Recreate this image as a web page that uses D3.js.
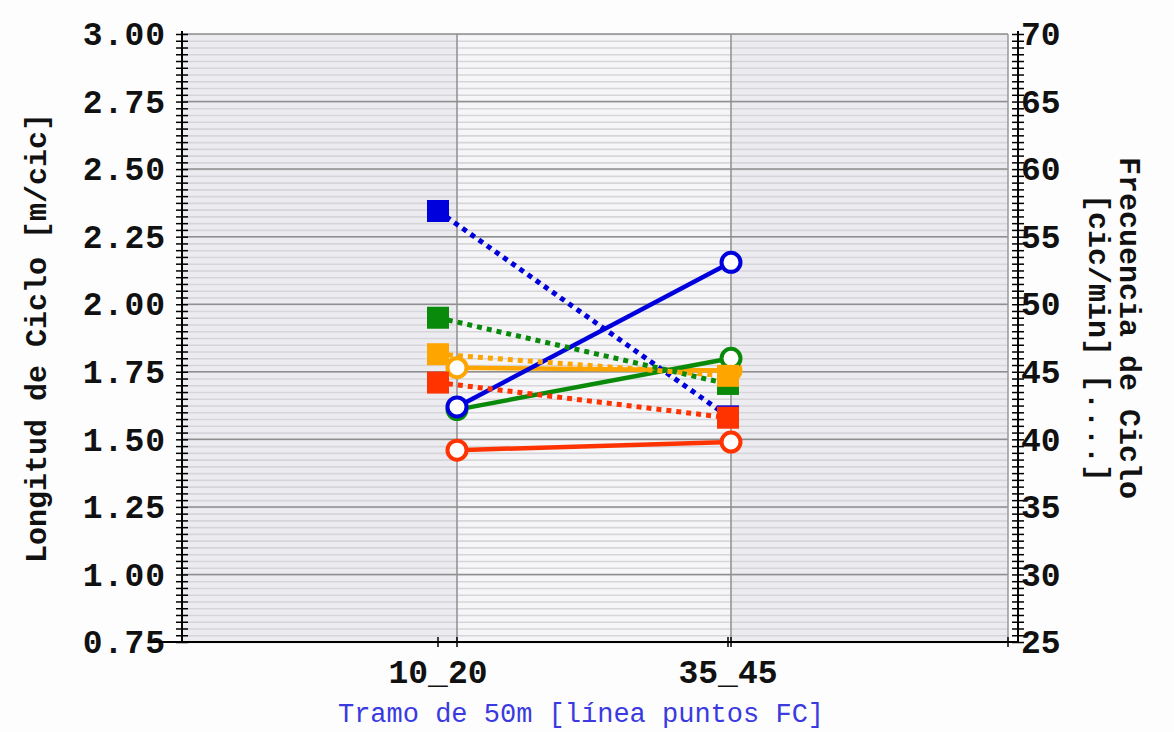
<!DOCTYPE html>
<html><head><meta charset="utf-8">
<script src="https://cdn.jsdelivr.net/npm/d3@7"></script>
<style>
html,body{margin:0;padding:0;background:#fdfdfd;}
svg{display:block;}
text{font-family:"Liberation Mono","DejaVu Sans Mono",monospace;}
</style></head>
<body>
<script>
// ---- data ----
const categories = ["10_20", "35_45"];
const seriesColors = ["#0000dd", "#0a8a0a", "#ffa500", "#ff3300"];
// Longitud de Ciclo [m/cic] (solid lines, circles, left axis)
const lcBlue   = [1.62, 2.155];
const lcGreen  = [1.61, 1.80];
const lcOrange = [1.765, 1.755];
const lcRed    = [1.46, 1.49];
// Frecuencia de Ciclo [cic/min] (dotted lines, squares, right axis)
const fcBlue   = [56.9, 41.7];
const fcGreen  = [49.0, 44.1];
const fcOrange = [46.3, 44.7];
const fcRed    = [44.2, 41.6];
const leftTicks  = [0.75, 1.00, 1.25, 1.50, 1.75, 2.00, 2.25, 2.50, 2.75, 3.00];
const rightTicks = [25, 30, 35, 40, 45, 50, 55, 60, 65, 70];

const lcSeries = [lcBlue, lcGreen, lcOrange, lcRed];
const fcSeries = [fcBlue, fcGreen, fcOrange, fcRed];

// ---- layout ----
const W = 1174, H = 732;
const plotL = 183, plotR = 1008, plotT = 34, plotB = 642;
const leftAxisX = 182, rightAxisX = 1018;

const svg = d3.select("body").append("svg").attr("width", W).attr("height", H);

const yL = d3.scaleLinear().domain([0.75, 3]).range([plotB, plotT]);
const yR = d3.scaleLinear().domain([25, 70]).range([plotB, plotT]);
const xC = d3.scalePoint().domain(categories).range([457, 731]);   // circles
const xS = d3.scalePoint().domain(categories).range([438, 728]);   // squares & labels

// background bands
svg.append("rect").attr("x", plotL).attr("y", plotT).attr("width", plotR - plotL).attr("height", plotB - plotT).attr("fill", "#ebebf0");
svg.append("rect").attr("x", xC(categories[0])).attr("y", plotT).attr("width", xC(categories[1]) - xC(categories[0])).attr("height", plotB - plotT).attr("fill", "#f6f6f8");

// minor stripes
const minor = d3.range(0, 91).map(i => 0.75 + i * 0.025);
svg.append("g").selectAll("line").data(minor).join("line")
  .attr("x1", plotL).attr("x2", plotR)
  .attr("y1", d => yL(d) + 0.5).attr("y2", d => yL(d) + 0.5)
  .attr("stroke", "#d6d6da").attr("stroke-width", 1.6);

// major grid
svg.append("g").selectAll("line").data(leftTicks).join("line")
  .attr("x1", plotL).attr("x2", plotR)
  .attr("y1", d => yL(d)).attr("y2", d => yL(d))
  .attr("stroke", "#8f8f8f").attr("stroke-width", 1.5);
svg.append("g").selectAll("line").data(categories).join("line")
  .attr("x1", d => xC(d)).attr("x2", d => xC(d))
  .attr("y1", plotT).attr("y2", plotB)
  .attr("stroke", "#8f8f8f").attr("stroke-width", 1.5);
// right border
svg.append("line").attr("x1", plotR).attr("x2", plotR).attr("y1", plotT).attr("y2", plotB)
  .attr("stroke", "#999").attr("stroke-width", 1.5);

// ---- axes ----
const tickLen = 6;
function crossTicks(g) {
  g.select(".domain").remove();
  g.selectAll(".tick line").attr("x1", -tickLen).attr("x2", tickLen).attr("stroke", "#000").attr("stroke-width", 1.5);
  g.selectAll(".tick text").remove();
}
const leftMinor = d3.range(0, 91).map(i => 0.75 + i * 0.025);
svg.append("g").attr("transform", `translate(${leftAxisX},0)`)
  .call(d3.axisLeft(yL).tickValues(leftMinor).tickSize(tickLen)).call(crossTicks);
svg.append("line").attr("x1", leftAxisX).attr("x2", leftAxisX).attr("y1", plotT - 3).attr("y2", plotB)
  .attr("stroke", "#000").attr("stroke-width", 2);

const rightMinor = d3.range(0, 91).map(i => 25 + i * 0.5);
svg.append("g").attr("transform", `translate(${rightAxisX},0)`)
  .call(d3.axisRight(yR).tickValues(rightMinor).tickSize(tickLen)).call(crossTicks);
svg.append("line").attr("x1", rightAxisX).attr("x2", rightAxisX).attr("y1", plotT - 3).attr("y2", plotB)
  .attr("stroke", "#000").attr("stroke-width", 2);

// tick labels
const fmt = d3.format(".2f");
svg.append("g").selectAll("text").data(leftTicks).join("text")
  .attr("x", 166).attr("y", d => yL(d)).attr("dy", "0.34em")
  .attr("text-anchor", "end").attr("font-size", 33).attr("font-weight", "bold").attr("fill", "#111")
  .attr("letter-spacing", 1)
  .text(d => fmt(d));
svg.append("g").selectAll("text").data(rightTicks).join("text")
  .attr("x", 1021).attr("y", d => yR(d)).attr("dy", "0.34em")
  .attr("text-anchor", "start").attr("font-size", 33).attr("font-weight", "bold").attr("fill", "#111")
  .text(d => d);
svg.append("g").selectAll("text").data(categories).join("text")
  .attr("x", d => xS(d)).attr("y", 683)
  .attr("text-anchor", "middle").attr("font-size", 33).attr("font-weight", "bold").attr("fill", "#111")
  .text(d => d);

// bottom axis line (drawn over the lowest label, as in the reference)
svg.append("line").attr("x1", 150).attr("x2", rightAxisX).attr("y1", plotB).attr("y2", plotB)
  .attr("stroke", "#000").attr("stroke-width", 2.2);
// bottom ticks
const bt = svg.append("g");
bt.selectAll("line.c").data(categories).join("line").attr("class", "c")
  .attr("x1", d => xC(d)).attr("x2", d => xC(d)).attr("y1", plotB - 5).attr("y2", plotB + 5)
  .attr("stroke", "#000").attr("stroke-width", 1.5);
bt.selectAll("line.s").data(categories).join("line").attr("class", "s")
  .attr("x1", d => xS(d)).attr("x2", d => xS(d)).attr("y1", plotB - 5).attr("y2", plotB + 5)
  .attr("stroke", "#000").attr("stroke-width", 1.5);
bt.append("line").attr("x1", plotR).attr("x2", plotR).attr("y1", plotB - 5).attr("y2", plotB + 5)
  .attr("stroke", "#000").attr("stroke-width", 1.5);

// axis titles
svg.append("text").attr("transform", `translate(46,${(plotT + plotB) / 2}) rotate(-90)`)
  .attr("text-anchor", "middle").attr("font-size", 30).attr("font-weight", "bold").attr("fill", "#111")
  .text("Longitud de Ciclo [m/cic]");
svg.append("text").attr("transform", `translate(1120,328) rotate(90)`)
  .attr("text-anchor", "middle").attr("font-size", 30).attr("font-weight", "bold").attr("fill", "#111")
  .text("Frecuencia de Ciclo");
svg.append("text").attr("transform", `translate(1089,338) rotate(90)`)
  .attr("text-anchor", "middle").attr("font-size", 30).attr("font-weight", "bold").attr("fill", "#111")
  .text("[cic/min] [....]");
svg.append("text").attr("x", 581).attr("y", 722)
  .attr("text-anchor", "middle").attr("font-size", 27).attr("fill", "#3a3ae0")
  .text("Tramo de 50m [línea puntos FC]");

// ---- marks ----
const lineL = d3.line().x((d, i) => xC(categories[i])).y(d => yL(d));
const lineR = d3.line().x((d, i) => xS(categories[i])).y(d => yR(d));
const order = [3, 2, 1, 0];

// solid lines
order.forEach(k => {
  svg.append("path").datum(lcSeries[k]).attr("d", lineL)
    .attr("fill", "none").attr("stroke", seriesColors[k]).attr("stroke-width", 4.5);
});
// circles
order.forEach(k => {
  svg.append("g").selectAll("circle").data(lcSeries[k]).join("circle")
    .attr("cx", (d, i) => xC(categories[i])).attr("cy", d => yL(d)).attr("r", 9.5)
    .attr("fill", "#fff").attr("stroke", seriesColors[k]).attr("stroke-width", 4);
});
// dotted lines
[0, 1, 2, 3].forEach(k => {
  svg.append("path").datum(fcSeries[k]).attr("d", lineR)
    .attr("fill", "none").attr("stroke", seriesColors[k]).attr("stroke-width", 5)
    .attr("stroke-dasharray", "5,5");
});
// squares
const sq = 22;
[0, 1, 2, 3].forEach(k => {
  svg.append("g").selectAll("rect").data(fcSeries[k]).join("rect")
    .attr("x", (d, i) => xS(categories[i]) - sq / 2).attr("y", d => yR(d) - sq / 2)
    .attr("width", sq).attr("height", sq)
    .attr("fill", seriesColors[k]);
});
</script>
</body></html>
